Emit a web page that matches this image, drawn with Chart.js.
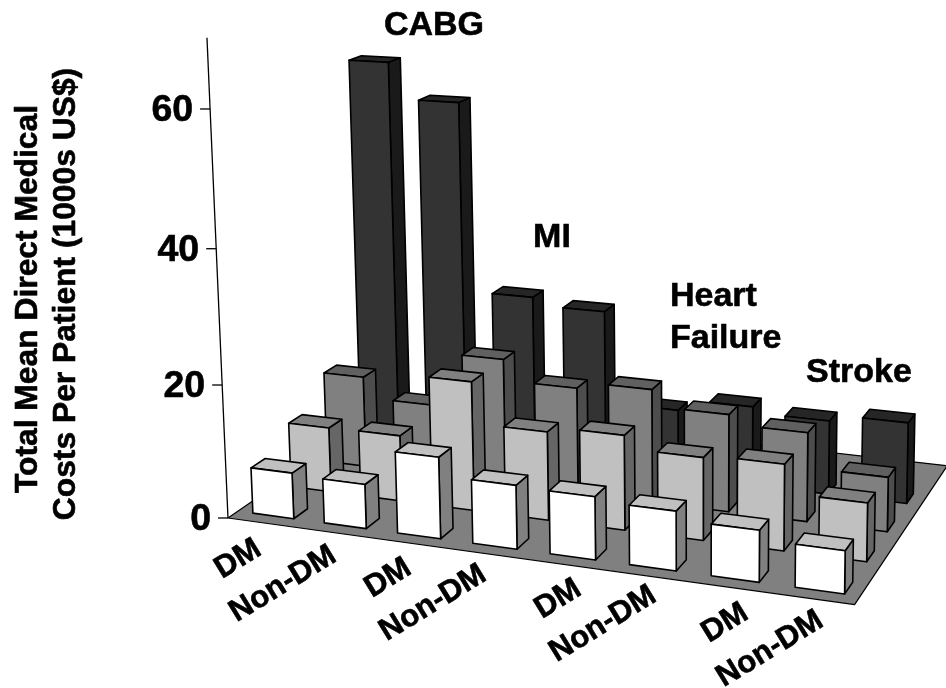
<!DOCTYPE html>
<html>
<head>
<meta charset="utf-8">
<style>
  body { margin: 0; background: #fff; }
  #wrap { width: 946px; height: 688px; }
</style>
</head>
<body>
<div id="wrap"><canvas id="chart" width="946" height="688"></canvas></div>
<script src="https://cdn.jsdelivr.net/npm/chart.js@4"></script>
<script>
// values (1000s US$), rows run front to back
const categories = ["DM", "Non-DM", "DM", "Non-DM", "DM", "Non-DM", "DM", "Non-DM"];
const rowWhite = [6.9, 6.6, 12.0, 9.3, 9.1, 8.5, 7.3, 6.0];
const rowLight = [9.9, 10.0, 19.4, 13.2, 14.0, 12.1, 12.5, 8.4];
const rowMid = [14.2, 11.0, 19.3, 16.1, 17.1, 14.6, 13.2, 8.0];
const rowDark = [60.7, 55.1, 25.7, 24.5, 10.3, 12.1, 11.2, 12.2];
const yTicks = [0, 20, 40, 60];
const groupLabels = ["CABG", "MI", "Heart", "Failure", "Stroke"];
const yTitle = ["Total Mean Direct Medical", "Costs Per Patient (1000s US$)"];

// front, top, side
const faceColors = [
  ["#ffffff", "#c0c0c0", "#808080"],
  ["#c0c0c0", "#808080", "#666666"],
  ["#808080", "#606060", "#4d4d4d"],
  ["#333333", "#262626", "#1a1a1a"],
];
const fontFamily = "'Liberation Sans', Arial, sans-serif";

// camera: scale decimals (u along categories, v into depth, z up) to canvas pixels
function project(u, v, z) {
  const w = 1 - 0.1038 * u + 0.1519 * v - 0.0424 * z;
  return {
    x: (228 + 540.4 * u + 227 * v - 29.8 * z) / w,
    y: (518 + 24.2 * u - 53.8 * v - 481.8 * z) / w,
  };
}

function poly(ctx, pts, fill) {
  ctx.beginPath();
  pts.forEach(function (p, i) {
    if (i === 0) ctx.moveTo(p.x, p.y);
    else ctx.lineTo(p.x, p.y);
  });
  ctx.closePath();
  if (fill) {
    ctx.fillStyle = fill;
    ctx.fill();
  }
  ctx.stroke();
}

// the reference text is a bit heavier than plain bold, hence the thin stroke
function boldText(ctx, text, x, y, angle, align, size) {
  ctx.save();
  ctx.translate(x, y);
  ctx.rotate(angle);
  ctx.font = "bold " + size + "px " + fontFamily;
  ctx.fillStyle = "#000";
  ctx.strokeStyle = "#000";
  ctx.lineWidth = 0.6;
  ctx.textAlign = align;
  ctx.textBaseline = "middle";
  ctx.fillText(text, 0, 0);
  ctx.strokeText(text, 0, 0);
  ctx.restore();
}

const bars3d = {
  id: "bars3d",
  afterDatasetsDraw: function (chart) {
    const ctx = chart.ctx;
    const xs = chart.scales.x;
    const ys = chart.scales.y;
    const ds = chart.scales.depth;
    const uOf = function (i) { return xs.getDecimalForPixel(xs.getPixelForValue(i)); };
    const zOf = function (val) { return ys.getDecimalForPixel(ys.getPixelForValue(val)); };
    const vOf = function (r) { return ds.getDecimalForPixel(ds.getPixelForValue(r)); };
    const hu = 0.036;
    const hv = 0.038;

    ctx.save();
    ctx.strokeStyle = "#000";
    ctx.lineJoin = "round";

    // floor
    ctx.lineWidth = 1.2;
    poly(ctx, [project(0, 0, 0), project(0.996, 0, 0), project(0.996, 1, 0), project(0, 1, 0)], "#808080");

    // value axis
    ctx.lineWidth = 1.3;
    const a0 = project(0, 0, 0);
    const a1 = project(0, 0, 1);
    ctx.beginPath();
    ctx.moveTo(a0.x, a0.y);
    ctx.lineTo(a1.x, a1.y);
    ctx.stroke();
    ys.ticks.forEach(function (t) {
      if (yTicks.indexOf(t.value) < 0) return;
      const p = project(0, 0, zOf(t.value));
      ctx.beginPath();
      ctx.moveTo(p.x, p.y);
      ctx.lineTo(p.x - 10, p.y);
      ctx.stroke();
      boldText(ctx, String(t.value), p.x - 17, p.y + 2, 0, "right", 37.5);
    });

    // bars, back row first
    ctx.lineWidth = 1.6;
    for (let r = chart.data.datasets.length - 1; r >= 0; r--) {
      const values = chart.data.datasets[r].data;
      const colors = faceColors[r];
      const v = vOf(r);
      values.forEach(function (val, i) {
        const u = uOf(i);
        const z = zOf(val);
        const fl0 = project(u - hu, v - hv, 0);
        const fr0 = project(u + hu, v - hv, 0);
        const br0 = project(u + hu, v + hv, 0);
        const flT = project(u - hu, v - hv, z);
        const frT = project(u + hu, v - hv, z);
        const brT = project(u + hu, v + hv, z);
        const blT = project(u - hu, v + hv, z);
        poly(ctx, [fr0, br0, brT, frT], colors[2]);
        poly(ctx, [flT, frT, brT, blT], colors[1]);
        poly(ctx, [fl0, fr0, frT, flT], colors[0]);
      });
    }

    // category labels along the front edge
    const labelPos = [[238, 559], [283, 584], [388, 578], [433, 603], [558, 599], [603, 624], [725, 623], [770, 649]];
    categories.forEach(function (c, i) {
      boldText(ctx, c, labelPos[i][0], labelPos[i][1], -0.55, "center", 31);
    });

    // group labels
    const groupPos = [[434, 26], [552, 238], [670, 297], [670, 339], [806, 373]];
    groupLabels.forEach(function (g, i) {
      boldText(ctx, g, groupPos[i][0], groupPos[i][1], 0, i < 2 ? "center" : "left", 34);
    });

    // axis title
    boldText(ctx, yTitle[0], 28, 299, -Math.PI / 2, "center", 31.8);
    boldText(ctx, yTitle[1], 66, 294, -Math.PI / 2, "center", 31.8);
    ctx.restore();
  },
};

new Chart(document.getElementById("chart").getContext("2d"), {
  type: "bar",
  data: {
    labels: categories,
    datasets: [
      { label: "Row 1", data: rowWhite, backgroundColor: "transparent" },
      { label: "Row 2", data: rowLight, backgroundColor: "transparent" },
      { label: "Row 3", data: rowMid, backgroundColor: "transparent" },
      { label: "Row 4", data: rowDark, backgroundColor: "transparent" },
    ],
  },
  options: {
    responsive: false,
    animation: false,
    layout: { padding: 0 },
    plugins: {
      legend: { display: false },
      tooltip: { enabled: false },
    },
    scales: {
      x: { display: false, offset: true },
      y: { display: false, min: 0, max: 70, ticks: { stepSize: 20 } },
      depth: { type: "linear", axis: "y", display: false, min: -0.43, max: 4.33 },
    },
  },
  plugins: [bars3d],
});
</script>
</body>
</html>
